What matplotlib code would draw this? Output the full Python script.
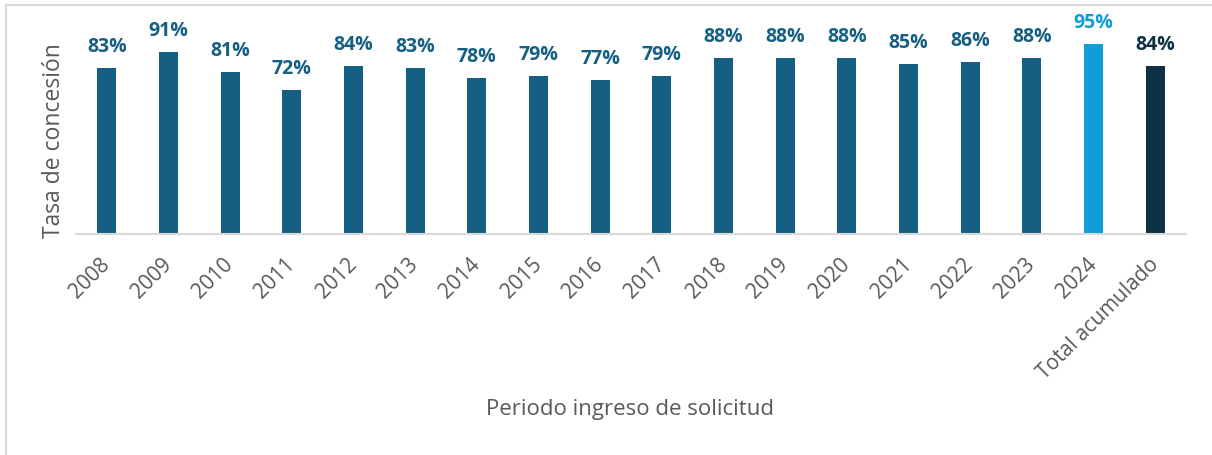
import matplotlib.pyplot as plt
from matplotlib.patches import Rectangle

# Datos
periodos = ['2008', '2009', '2010', '2011', '2012', '2013', '2014', '2015', '2016',
            '2017', '2018', '2019', '2020', '2021', '2022', '2023', '2024', 'Total acumulado']
tasa = [0.83, 0.91, 0.81, 0.72, 0.84, 0.83, 0.78, 0.79, 0.77,
        0.79, 0.88, 0.88, 0.88, 0.85, 0.86, 0.88, 0.95, 0.84]

azul = '#156082'
celeste = '#0F9ED5'
oscuro = '#0D3045'
colores = [azul] * 16 + [celeste, oscuro]

plt.rcParams['font.family'] = ['Open Sans', 'DejaVu Sans']

fig = plt.figure(figsize=(12.12, 4.56), dpi=100)
ax = fig.add_axes([76 / 1212, 1 - 235 / 456, 1110 / 1212, 220 / 456])

x = range(len(periodos))
ax.bar(x, tasa, width=0.31, color=colores, zorder=2)

# etiquetas de valor
for i, v in enumerate(tasa):
    ax.annotate(f'{round(v * 100)}%', (i, v), xytext=(0, 12), textcoords='offset points',
                ha='center', va='baseline', fontsize=14, fontweight='bold',
                color=colores[i], annotation_clip=False)

ax.set_xlim(-0.5, len(periodos) - 0.5)
ax.set_ylim(0, 1.1)
ax.set_yticks([])
ax.set_xticks(list(x))
ax.set_xticklabels(periodos, rotation=45, ha='right', va='center',
                   rotation_mode='anchor', fontsize=15, color='#595959')
ax.tick_params(axis='x', length=0, pad=19)

for lado in ['top', 'right', 'left']:
    ax.spines[lado].set_visible(False)
ax.spines['bottom'].set_color('#D9D9D9')
ax.spines['bottom'].set_linewidth(1.5)

ax.set_ylabel('Tasa de concesión', fontsize=16.5, color='#595959')
ax.yaxis.set_label_coords(-0.009, 0.43)
fig.text(630 / 1212, 1 - 410 / 456, 'Periodo ingreso de solicitud', ha='center',
         va='center', fontsize=16, color='#595959')

# borde del área de gráfico
fig.patches.append(Rectangle((5.5 / 1212, -0.1), 1.2, 1 - 6 / 456 + 0.1,
                             transform=fig.transFigure, fill=False,
                             edgecolor='#D9D9D9', linewidth=1.5))

fig.savefig('out.png', dpi=100)
